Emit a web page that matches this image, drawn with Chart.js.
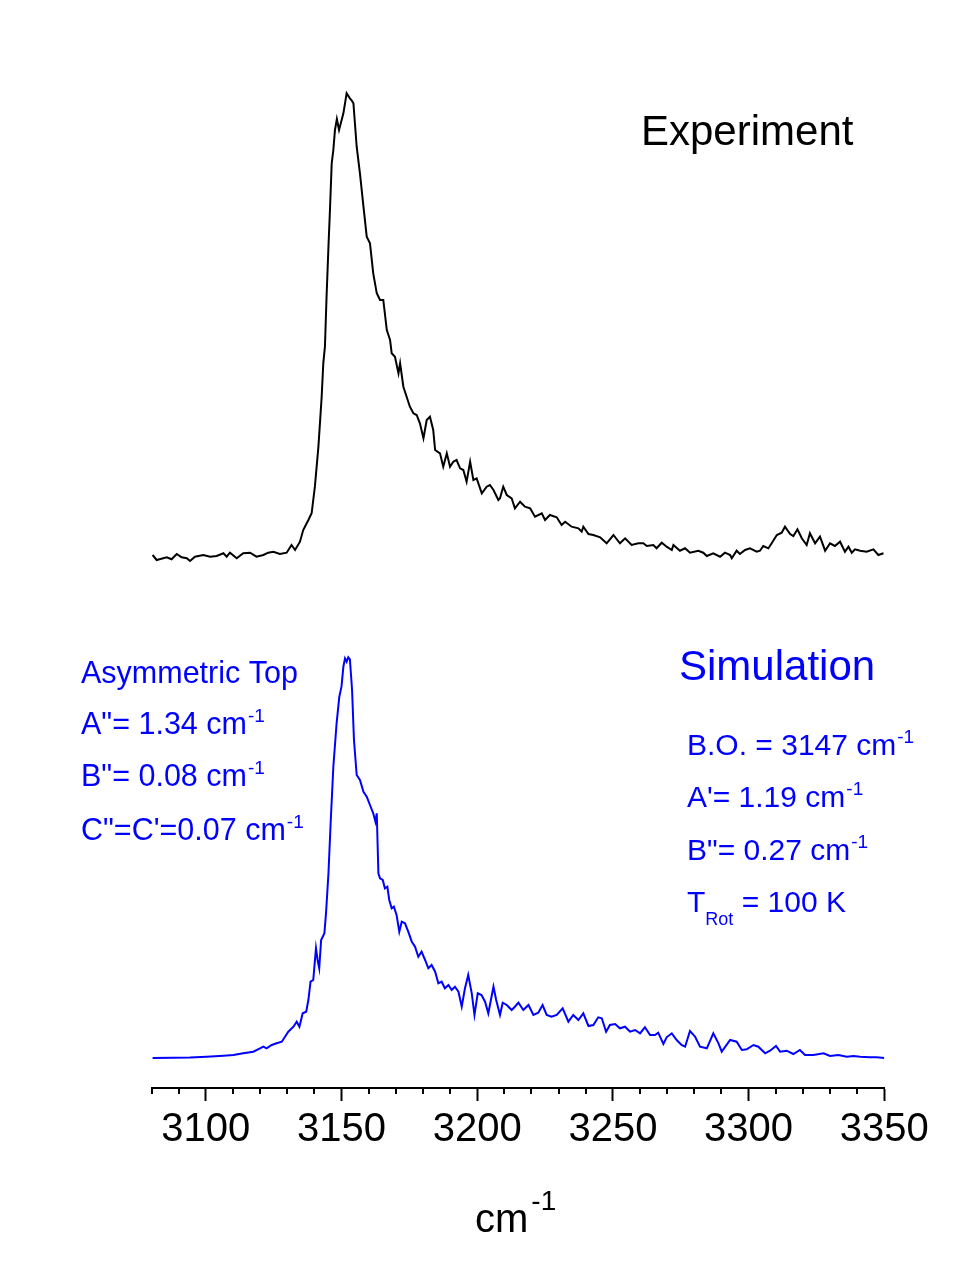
<!DOCTYPE html>
<html><head><meta charset="utf-8">
<script src="https://cdn.jsdelivr.net/npm/chart.js@4.4.1/dist/chart.umd.min.js"></script>
<style>html,body{margin:0;padding:0;background:#fff;}canvas{display:block;}</style>
</head><body>
<canvas id="c" width="967" height="1272"></canvas>
<script>
// ---- data (wavenumber in cm-1, relative intensity) ----
const expWavenumber = [3080.4,3081.9,3085.6,3087.4,3089.3,3091.1,3093.0,3094.2,3096.0,3099.1,3101.6,3104.0,3106.5,3107.7,3108.9,3111.4,3113.8,3116.3,3118.7,3121.2,3123.0,3124.9,3127.3,3129.8,3131.6,3132.9,3134.7,3135.9,3137.8,3139.0,3140.2,3141.5,3142.7,3143.3,3143.9,3144.5,3145.2,3145.8,3146.4,3147.0,3147.6,3148.3,3149.1,3150.7,3151.9,3153.1,3153.8,3154.4,3155.6,3156.8,3158.1,3159.3,3160.5,3161.7,3163.0,3164.2,3165.4,3166.7,3167.9,3168.5,3169.7,3171.0,3171.6,3172.8,3174.0,3175.2,3176.5,3177.7,3178.9,3180.2,3181.4,3182.6,3183.8,3184.5,3186.3,3187.5,3188.8,3190.0,3191.2,3192.4,3193.7,3194.9,3196.1,3197.4,3198.6,3199.8,3201.7,3203.5,3204.7,3206.0,3207.8,3208.4,3209.6,3210.9,3212.7,3213.9,3215.8,3217.6,3219.5,3221.3,3223.8,3225.0,3226.8,3229.3,3231.1,3232.4,3234.8,3237.3,3238.5,3239.1,3241.0,3242.8,3245.3,3247.7,3250.2,3252.6,3254.5,3256.9,3259.4,3261.2,3262.5,3264.9,3266.1,3268.0,3269.8,3271.7,3272.3,3274.7,3276.6,3278.4,3281.5,3283.3,3284.6,3287.0,3289.5,3291.3,3293.2,3293.8,3295.6,3296.8,3298.7,3300.5,3303.0,3304.2,3305.4,3307.3,3308.5,3310.4,3312.2,3313.4,3315.3,3316.5,3318.0,3319.6,3321.4,3322.6,3324.5,3326.3,3328.2,3330.0,3331.8,3333.7,3335.5,3336.8,3338.0,3339.2,3341.1,3343.5,3346.0,3347.8,3349.7];
const expIntensity = [0.01,-0.04,-0.013,-0.033,0.02,-0.013,-0.023,-0.05,-0.007,0.01,-0.007,0.0,0.027,-0.007,0.033,-0.023,0.027,0.033,-0.007,0.01,0.033,0.043,0.02,0.033,0.11,0.06,0.143,0.26,0.36,0.427,0.693,1.093,1.593,1.927,2.093,2.593,3.093,3.493,3.927,4.06,4.26,4.37,4.26,4.427,4.627,4.577,4.553,4.527,4.093,3.827,3.493,3.193,3.127,2.827,2.627,2.56,2.56,2.26,2.16,2.027,1.993,1.827,1.927,1.693,1.593,1.493,1.427,1.41,1.327,1.177,1.36,1.393,1.26,1.06,1.027,0.893,1.027,0.893,0.943,0.96,0.877,0.86,0.743,0.943,0.76,0.777,0.627,0.693,0.71,0.66,0.56,0.577,0.693,0.61,0.577,0.477,0.543,0.493,0.477,0.393,0.427,0.36,0.41,0.387,0.31,0.343,0.293,0.277,0.243,0.293,0.22,0.21,0.187,0.127,0.21,0.127,0.177,0.11,0.127,0.127,0.10,0.11,0.077,0.133,0.093,0.06,0.11,0.053,0.077,0.033,0.053,0.033,0.0,0.027,-0.007,0.033,0.01,-0.023,0.053,0.02,0.06,0.077,0.043,0.053,0.10,0.077,0.127,0.21,0.233,0.293,0.22,0.20,0.267,0.177,0.11,0.227,0.127,0.193,0.053,0.127,0.10,0.143,0.043,0.093,0.033,0.067,0.053,0.043,0.067,0.01,0.027];

const simWavenumber = [3080.4,3088.0,3094.2,3100.3,3106.5,3110.2,3113.8,3117.5,3120.0,3121.2,3122.4,3124.3,3126.1,3128.0,3129.2,3130.4,3132.3,3133.5,3134.5,3135.7,3137.0,3137.8,3138.6,3139.6,3140.6,3141.2,3141.8,3142.5,3143.1,3143.7,3144.3,3145.2,3146.0,3147.0,3148.2,3149.2,3150.0,3150.7,3151.3,3151.9,3152.5,3153.1,3153.9,3154.6,3155.6,3156.8,3158.1,3159.3,3160.5,3161.7,3162.5,3163.0,3163.6,3164.2,3165.2,3166.0,3166.9,3167.6,3168.5,3169.3,3170.3,3171.3,3172.2,3173.4,3174.6,3175.9,3177.1,3178.3,3179.5,3180.8,3182.0,3183.2,3184.5,3185.7,3186.9,3188.1,3189.4,3190.6,3191.8,3193.1,3194.3,3195.5,3196.7,3198.0,3199.0,3200.2,3201.6,3202.9,3204.1,3206.0,3207.0,3208.4,3209.4,3210.9,3212.7,3213.9,3215.2,3217.0,3218.9,3220.7,3222.5,3224.1,3225.6,3227.4,3229.3,3231.5,3233.6,3235.4,3237.3,3239.1,3241.0,3242.8,3244.6,3245.9,3247.5,3248.9,3250.8,3252.6,3254.5,3256.3,3258.2,3260.0,3261.8,3263.7,3265.5,3266.7,3268.6,3269.8,3271.7,3273.5,3275.3,3276.6,3278.4,3280.3,3282.1,3284.6,3287.0,3288.9,3290.1,3293.2,3295.6,3297.5,3299.3,3301.8,3303.6,3306.1,3307.9,3310.1,3311.6,3314.0,3316.5,3318.9,3320.8,3323.9,3327.6,3330.0,3333.1,3336.2,3338.6,3341.1,3344.7,3347.2,3350.0];
const simIntensity = [0.0,0.003,0.005,0.013,0.023,0.03,0.047,0.063,0.097,0.113,0.097,0.13,0.147,0.163,0.213,0.263,0.313,0.363,0.313,0.447,0.463,0.58,0.763,0.78,1.097,0.98,0.897,1.18,1.213,1.247,1.447,1.847,2.347,2.913,3.347,3.613,3.713,3.913,3.997,3.963,4.007,3.987,3.68,3.18,2.83,2.78,2.663,2.613,2.53,2.447,2.363,2.447,1.847,1.797,1.78,1.697,1.713,1.58,1.497,1.513,1.43,1.263,1.363,1.347,1.263,1.163,1.113,1.013,1.063,0.98,0.897,0.93,0.863,0.747,0.763,0.697,0.73,0.68,0.713,0.663,0.513,0.697,0.83,0.647,0.43,0.647,0.63,0.563,0.447,0.713,0.58,0.43,0.553,0.53,0.48,0.513,0.553,0.48,0.53,0.43,0.453,0.53,0.43,0.413,0.43,0.497,0.363,0.43,0.38,0.447,0.32,0.33,0.407,0.397,0.263,0.33,0.34,0.297,0.313,0.263,0.28,0.247,0.307,0.23,0.23,0.253,0.14,0.207,0.247,0.18,0.13,0.113,0.27,0.213,0.113,0.097,0.247,0.147,0.063,0.18,0.163,0.08,0.087,0.13,0.113,0.047,0.073,0.12,0.063,0.073,0.04,0.08,0.03,0.03,0.047,0.02,0.03,0.013,0.02,0.013,0.007,0.007,0.0];

const EXP_OFFSET = 5.32;   // vertical offset of the experimental trace
const SIM_OFFSET = 0.30;   // vertical offset of the simulated trace
const xTickLabels = [3100, 3150, 3200, 3250, 3300, 3350];
const X_MIN = 3080, X_MAX = 3350, MINOR_STEP = 10;

const FONT = '"Liberation Sans", Arial, Helvetica, sans-serif';
const BLUE = '#0000FF';

function drawRuns(ctx, x, y, runs, color) {
  ctx.save();
  ctx.fillStyle = color;
  ctx.textAlign = 'left';
  ctx.textBaseline = 'alphabetic';
  for (const r of runs) {
    ctx.font = r.size + 'px ' + FONT;
    ctx.fillText(r.t, x + (r.dx || 0), y + (r.dy || 0));
    x += (r.dx || 0) + ctx.measureText(r.t).width;
  }
  ctx.restore();
}
const sup = (t) => ({t, size: 19, dy: -12, dx: 1});

const annotations = {
  id: 'annotations',
  afterDraw(chart) {
    const ctx = chart.ctx;
    const xs = chart.scales.x;
    const bottom = chart.chartArea.bottom;
    // minor ticks
    ctx.save();
    ctx.strokeStyle = '#000';
    ctx.lineWidth = 2;
    for (let v = X_MIN; v <= X_MAX; v += MINOR_STEP) {
      if (v % 50 === 0) continue;
      const px = Math.round(xs.getPixelForValue(v));
      ctx.beginPath();
      ctx.moveTo(px, bottom);
      ctx.lineTo(px, bottom + 6);
      ctx.stroke();
    }
    ctx.restore();

    drawRuns(ctx, 641, 145, [{t: 'Experiment', size: 42}], '#000');
    drawRuns(ctx, 679, 680, [{t: 'Simulation', size: 42}], BLUE);

    drawRuns(ctx, 81, 683, [{t: 'Asymmetric Top', size: 30.5}], BLUE);
    drawRuns(ctx, 81, 734, [{t: 'A"= 1.34 cm', size: 30.5}, sup('-1')], BLUE);
    drawRuns(ctx, 81, 786, [{t: 'B"= 0.08 cm', size: 30.5}, sup('-1')], BLUE);
    drawRuns(ctx, 81, 840, [{t: 'C"=C\'=0.07 cm', size: 30.5}, sup('-1')], BLUE);

    drawRuns(ctx, 687, 755, [{t: 'B.O. = 3147 cm', size: 30}, sup('-1')], BLUE);
    drawRuns(ctx, 687, 807, [{t: 'A\'= 1.19 cm', size: 30}, sup('-1')], BLUE);
    drawRuns(ctx, 687, 860, [{t: 'B"= 0.27 cm', size: 30}, sup('-1')], BLUE);
    drawRuns(ctx, 687, 912, [{t: 'T', size: 30}, {t: 'Rot', size: 18, dy: 13}, {t: ' = 100 K', size: 30}], BLUE);

    // axis title cm^-1
    drawRuns(ctx, 475, 1232, [{t: 'cm', size: 40}, {t: '-1', size: 28, dy: -22, dx: 3}], '#000');
  }
};

new Chart(document.getElementById('c'), {
  type: 'line',
  data: {
    datasets: [
      {
        label: 'Experiment',
        data: expWavenumber.map((w, i) => ({x: w, y: expIntensity[i] + EXP_OFFSET})),
        borderColor: '#000',
        borderWidth: 2,
        pointRadius: 0,
        tension: 0,
        fill: false
      },
      {
        label: 'Simulation',
        data: simWavenumber.map((w, i) => ({x: w, y: simIntensity[i] + SIM_OFFSET})),
        borderColor: BLUE,
        borderWidth: 2,
        pointRadius: 0,
        tension: 0,
        fill: false
      }
    ]
  },
  options: {
    responsive: false,
    animation: false,
    devicePixelRatio: 1,
    layout: {padding: {left: 151.5, right: 82.7, top: 68, bottom: 113}},
    plugins: {legend: {display: false}, tooltip: {enabled: false}, title: {display: false}},
    scales: {
      x: {
        type: 'linear',
        min: X_MIN,
        max: X_MAX,
        afterBuildTicks: (scale) => { scale.ticks = xTickLabels.map(v => ({value: v})); },
        ticks: {
          color: '#000',
          padding: 5,
          maxRotation: 0,
          autoSkip: false,
          font: {family: FONT, size: 40},
          callback: (v) => String(v)
        },
        grid: {drawOnChartArea: false, drawTicks: true, tickLength: 13, tickWidth: 2, tickColor: '#000'},
        border: {display: true, color: '#000', width: 2}
      },
      y: {
        type: 'linear',
        display: false,
        min: 0,
        max: 10.2
      }
    }
  },
  plugins: [annotations]
});
</script>
</body></html>
